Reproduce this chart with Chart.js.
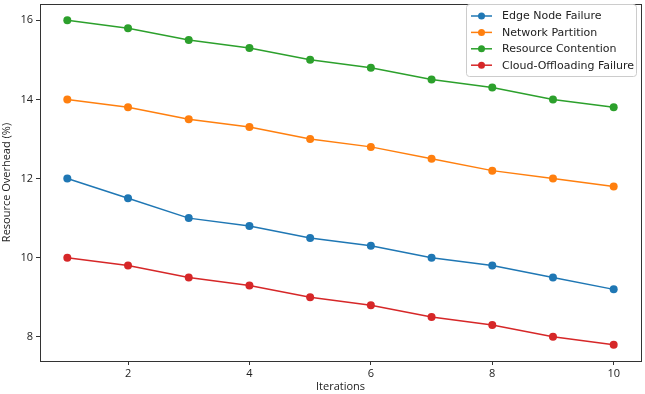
<!DOCTYPE html>
<html>
<head>
<meta charset="utf-8">
<script src="https://cdn.jsdelivr.net/npm/chart.js@4/dist/chart.umd.min.js"></script>
<style>
  html, body { margin: 0; padding: 0; background: #fff; }
  #wrap { width: 645px; height: 394px; }
</style>
</head>
<body>
<div id="wrap"><canvas id="c" width="645" height="394"></canvas></div>
<script>
const iterations = [1, 2, 3, 4, 5, 6, 7, 8, 9, 10]
const edgeNodeFailure = [12, 11.5, 11, 10.8, 10.5, 10.3, 10, 9.8, 9.5, 9.2]
const networkPartition = [14, 13.8, 13.5, 13.3, 13, 12.8, 12.5, 12.2, 12, 11.8]
const resourceContention = [16, 15.8, 15.5, 15.3, 15, 14.8, 14.5, 14.3, 14, 13.8]
const cloudOffloadingFailure = [10, 9.8, 9.5, 9.3, 9, 8.8, 8.5, 8.3, 8, 7.8]
const xTicks = [2, 4, 6, 8, 10]
const yTicks = [8, 10, 12, 14, 16]

const series = [
  { label: 'Edge Node Failure', values: edgeNodeFailure, color: '#1f77b4' },
  { label: 'Network Partition', values: networkPartition, color: '#ff7f0e' },
  { label: 'Resource Contention', values: resourceContention, color: '#2ca02c' },
  { label: 'Cloud-Offloading Failure', values: cloudOffloadingFailure, color: '#d62728' },
]

const axisFont = "'Open Sans', 'Noto Sans', sans-serif"
const legendFont = "'DejaVu Sans', sans-serif"

// full box around plot + matplotlib-like legend
const framePlugin = {
  id: 'frame',
  afterDraw(chart) {
    const { ctx, chartArea: a } = chart
    ctx.save()
    ctx.strokeStyle = '#333'
    ctx.lineWidth = 1
    ctx.strokeRect(a.left + 0.5, a.top + 0.5, a.right - a.left, a.bottom - a.top)

    // legend
    const bx = 466, by = 4, bw = 170, bh = 72
    ctx.fillStyle = 'rgba(255,255,255,0.8)'
    ctx.strokeStyle = '#ccc'
    ctx.beginPath()
    ctx.roundRect(bx + 0.5, by + 0.5, bw, bh, 3)
    ctx.fill()
    ctx.stroke()
    ctx.font = '11px ' + legendFont
    ctx.textBaseline = 'middle'
    chart.data.datasets.forEach((ds, i) => {
      const y = by + 12 + i * 16.4
      ctx.strokeStyle = ds.borderColor
      ctx.lineWidth = 1.5
      ctx.beginPath()
      ctx.moveTo(bx + 5, y)
      ctx.lineTo(bx + 26, y)
      ctx.stroke()
      ctx.fillStyle = ds.borderColor
      ctx.beginPath()
      ctx.arc(bx + 15.5, y, 3.5, 0, Math.PI * 2)
      ctx.fill()
      ctx.fillStyle = '#222'
      ctx.fillText(ds.label, bx + 36, y + 0.5)
    })
    ctx.restore()
  }
}

new Chart(document.getElementById('c'), {
  type: 'line',
  data: {
    labels: iterations,
    datasets: series.map(s => ({
      label: s.label,
      data: s.values.map((v, i) => ({ x: iterations[i], y: v })),
      borderColor: s.color,
      backgroundColor: s.color,
      borderWidth: 1.5,
      pointRadius: 4,
      pointBorderWidth: 0,
      fill: false,
      tension: 0,
    })),
  },
  options: {
    responsive: false,
    animation: false,
    layout: { padding: { left: 0, right: 3, top: 3, bottom: 0 } },
    plugins: {
      legend: { display: false },
      tooltip: { enabled: false },
    },
    scales: {
      x: {
        type: 'linear',
        min: 0.55,
        max: 10.45,
        afterBuildTicks: (axis) => { axis.ticks = xTicks.map(v => ({ value: v })) },
        afterFit: (axis) => { axis.height = 33 },
        grid: { display: true, drawOnChartArea: false, tickLength: 4, color: '#333' },
        border: { display: false },
        ticks: { color: '#222', font: { family: axisFont, size: 11 }, padding: 2, maxRotation: 0 },
        title: { display: true, text: 'Iterations', color: '#222', font: { family: axisFont, size: 11 }, padding: { top: 0, bottom: 1 } },
      },
      y: {
        min: 7.39,
        max: 16.41,
        afterBuildTicks: (axis) => { axis.ticks = yTicks.map(v => ({ value: v })) },
        afterFit: (axis) => { axis.width = 40; axis.paddingTop = 0; axis.paddingBottom = 0 },
        grid: { display: true, drawOnChartArea: false, tickLength: 4, color: '#333' },
        border: { display: false },
        ticks: { color: '#222', font: { family: axisFont, size: 11 }, padding: 3 },
        title: { display: true, text: 'Resource Overhead (%)', color: '#222', font: { family: axisFont, size: 11 }, padding: { top: 0, bottom: 2 } },
      },
    },
  },
  plugins: [framePlugin],
})
</script>
</body>
</html>
